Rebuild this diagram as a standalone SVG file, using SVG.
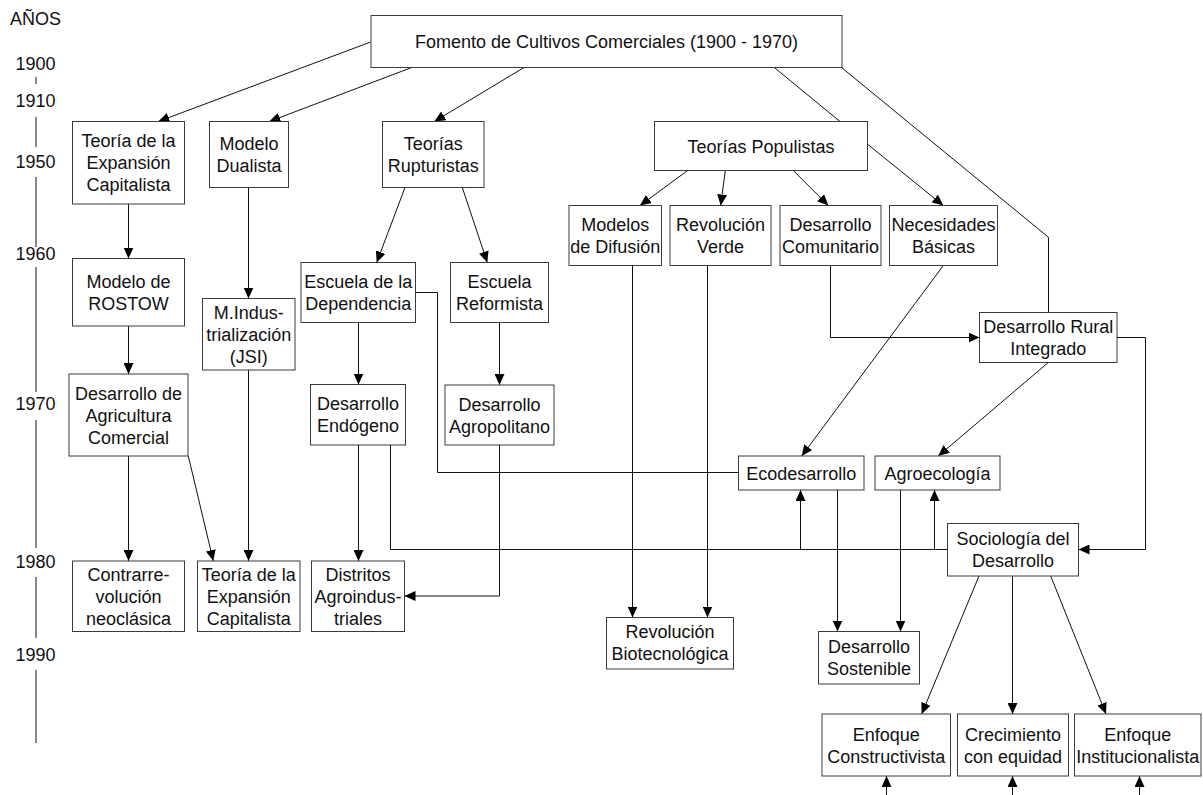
<svg xmlns="http://www.w3.org/2000/svg" width="1203" height="795" viewBox="0 0 1203 795">
<style>
.bg{fill:#fff}
.box{fill:#fff;stroke:#3a3a3a;stroke-width:1}
.t{font-family:"Liberation Sans",Arial,sans-serif;font-size:18px;fill:#111;text-anchor:middle}
.c{fill:none;stroke:#111;stroke-width:1}
.a{marker-end:url(#ah)}
.tl{stroke:#111;stroke-width:1}
</style>
<defs>
<marker id="ah" markerUnits="userSpaceOnUse" markerWidth="11" markerHeight="10" refX="11" refY="5" orient="auto">
<path d="M0,0 L11,5 L0,10 z" fill="#000"/>
</marker>
</defs>
<rect class="bg" x="0" y="0" width="1203" height="795"/>
<g id="timeline">
<text class="t" x="35.5" y="25">AÑOS</text>
<text class="t" x="35.5" y="70">1900</text>
<text class="t" x="35.5" y="107">1910</text>
<text class="t" x="35.5" y="168">1950</text>
<text class="t" x="35.5" y="260">1960</text>
<text class="t" x="35.5" y="410">1970</text>
<text class="t" x="35.5" y="568">1980</text>
<text class="t" x="35.5" y="661">1990</text>
<path class="tl" d="M36,77 V84 M36,117 V147 M36,177 V247 M36,267 V392 M36,420 V548 M36,577 V638 M36,670 V743"/>
</g>
<g id="connectors">
<path class="c a" d="M370.7,42 L158.3,121.5"/>
<path class="c a" d="M411.7,67.5 L269.3,121.5"/>
<path class="c a" d="M524,67.5 L434.3,121.5"/>
<path class="c" d="M774.3,67.5 L840,121.5"/>
<path class="c" d="M841.5,67.5 L1048.5,237.3 L1048.5,312.5"/>
<path class="c a" d="M128.5,204 V258.5"/>
<path class="c a" d="M128.5,326 V374"/>
<path class="c a" d="M128.5,456 V561"/>
<path class="c a" d="M188.3,456 L213.3,561"/>
<path class="c a" d="M248.5,187.5 V298.5"/>
<path class="c a" d="M248.5,370 V561"/>
<path class="c a" d="M405,187.5 L376.7,262.5"/>
<path class="c a" d="M462.3,187.5 L487.3,262.5"/>
<path class="c a" d="M358.5,322.5 V384.5"/>
<path class="c" d="M415.5,292.5 H437.5 V472.5 H738.5"/>
<path class="c a" d="M499.5,322.5 V385"/>
<path class="c a" d="M499.5,445 V596 H404.5"/>
<path class="c a" d="M358.5,445 V561"/>
<path class="c" d="M390.5,445 V549.5 H947.5"/>
<path class="c a" d="M800.5,549.5 V490"/>
<path class="c a" d="M934.5,549.5 V490"/>
<path class="c a" d="M687.7,170.5 L640,205.5"/>
<path class="c a" d="M725.3,170.5 L720.7,205.5"/>
<path class="c a" d="M793.3,170.5 L828.3,205.5"/>
<path class="c a" d="M867.3,144 L943.3,205.5"/>
<path class="c a" d="M632.5,265.5 V617.5"/>
<path class="c a" d="M707.5,265.5 V617.5"/>
<path class="c a" d="M830.5,265.5 V337.5 H979.5"/>
<path class="c a" d="M943.3,265.5 L801.7,456"/>
<path class="c a" d="M1048.3,362.5 L938.3,456"/>
<path class="c a" d="M1117,337.5 H1145.5 V549.5 H1078.5"/>
<path class="c a" d="M837.5,490 V631.5"/>
<path class="c a" d="M900.5,490 V631.5"/>
<path class="c a" d="M979,576 L921.7,714"/>
<path class="c a" d="M1012.5,576 V714"/>
<path class="c a" d="M1050.7,576 L1106,714"/>
<path class="c a" d="M886.5,795 V776"/>
<path class="c a" d="M1012.5,795 V776"/>
<path class="c a" d="M1139.5,795 V776"/>
</g>
<g id="n-fomento"><rect class="box" x="371" y="15.5" width="471" height="52"/><text class="t" x="606.5" y="48">Fomento de Cultivos Comerciales (1900 - 1970)</text></g>
<g id="n-teoria1"><rect class="box" x="72.5" y="121.5" width="112" height="82.5"/><text class="t"><tspan x="128.5" y="147.2">Teoría de la</tspan><tspan x="128.5" y="169.2">Expansión</tspan><tspan x="128.5" y="191.2">Capitalista</tspan></text></g>
<g id="n-dualista"><rect class="box" x="209.5" y="121.5" width="79" height="66"/><text class="t"><tspan x="249" y="150">Modelo</tspan><tspan x="249" y="172">Dualista</tspan></text></g>
<g id="n-rupturistas"><rect class="box" x="382.5" y="121.5" width="101.5" height="66"/><text class="t"><tspan x="433.25" y="150">Teorías</tspan><tspan x="433.25" y="172">Rupturistas</tspan></text></g>
<g id="n-populistas"><rect class="box" x="654.5" y="121.5" width="213" height="49"/><text class="t" x="761" y="152.5">Teorías Populistas</text></g>
<g id="n-difusion"><rect class="box" x="569" y="205.5" width="92.5" height="60"/><text class="t"><tspan x="615.25" y="231">Modelos</tspan><tspan x="615.25" y="253">de Difusión</tspan></text></g>
<g id="n-verde"><rect class="box" x="670" y="205.5" width="101" height="60"/><text class="t"><tspan x="720.5" y="231">Revolución</tspan><tspan x="720.5" y="253">Verde</tspan></text></g>
<g id="n-comunitario"><rect class="box" x="780" y="205.5" width="101" height="60"/><text class="t"><tspan x="830.5" y="231">Desarrollo</tspan><tspan x="830.5" y="253">Comunitario</tspan></text></g>
<g id="n-necesidades"><rect class="box" x="889.5" y="205.5" width="108" height="60"/><text class="t"><tspan x="943.5" y="231">Necesidades</tspan><tspan x="943.5" y="253">Básicas</tspan></text></g>
<g id="n-rostow"><rect class="box" x="72.5" y="258.5" width="112" height="67.5"/><text class="t"><tspan x="128.5" y="287.8">Modelo de</tspan><tspan x="128.5" y="309.8">ROSTOW</tspan></text></g>
<g id="n-dependencia"><rect class="box" x="301" y="262.5" width="114.5" height="60"/><text class="t"><tspan x="358.25" y="288">Escuela de la</tspan><tspan x="358.25" y="310">Dependencia</tspan></text></g>
<g id="n-reformista"><rect class="box" x="450.5" y="262.5" width="98" height="60"/><text class="t"><tspan x="499.5" y="288">Escuela</tspan><tspan x="499.5" y="310">Reformista</tspan></text></g>
<g id="n-industrializacion"><rect class="box" x="202.5" y="298.5" width="92.5" height="71.5"/><text class="t"><tspan x="248.75" y="318.7">M.Indus-</tspan><tspan x="248.75" y="340.7">trialización</tspan><tspan x="248.75" y="362.7">(JSI)</tspan></text></g>
<g id="n-agricultura"><rect class="box" x="69" y="374" width="119" height="82"/><text class="t"><tspan x="128.5" y="399.5">Desarrollo de</tspan><tspan x="128.5" y="421.5">Agricultura</tspan><tspan x="128.5" y="443.5">Comercial</tspan></text></g>
<g id="n-endogeno"><rect class="box" x="310.5" y="384.5" width="95" height="60.5"/><text class="t"><tspan x="358" y="410.2">Desarrollo</tspan><tspan x="358" y="432.2">Endógeno</tspan></text></g>
<g id="n-agropolitano"><rect class="box" x="445" y="385" width="109" height="60"/><text class="t"><tspan x="499.5" y="410.5">Desarrollo</tspan><tspan x="499.5" y="432.5">Agropolitano</tspan></text></g>
<g id="n-dri"><rect class="box" x="979.5" y="312.5" width="137.5" height="50"/><text class="t"><tspan x="1048.25" y="333">Desarrollo Rural</tspan><tspan x="1048.25" y="355">Integrado</tspan></text></g>
<g id="n-ecodesarrollo"><rect class="box" x="738.5" y="456" width="125.5" height="34"/><text class="t" x="801.25" y="479.5">Ecodesarrollo</text></g>
<g id="n-agroecologia"><rect class="box" x="875" y="456" width="125" height="34"/><text class="t" x="937.5" y="479.5">Agroecología</text></g>
<g id="n-sociologia"><rect class="box" x="947.5" y="523.5" width="131" height="52.5"/><text class="t"><tspan x="1013" y="545.2">Sociología del</tspan><tspan x="1013" y="567.2">Desarrollo</tspan></text></g>
<g id="n-contrarrevolucion"><rect class="box" x="72.5" y="561" width="112" height="70.5"/><text class="t"><tspan x="128.5" y="580.7">Contrarre-</tspan><tspan x="128.5" y="602.7">volución</tspan><tspan x="128.5" y="624.7">neoclásica</tspan></text></g>
<g id="n-teoria2"><rect class="box" x="197.5" y="561" width="102.5" height="70.5"/><text class="t"><tspan x="248.75" y="580.7">Teoría de la</tspan><tspan x="248.75" y="602.7">Expansión</tspan><tspan x="248.75" y="624.7">Capitalista</tspan></text></g>
<g id="n-distritos"><rect class="box" x="311.5" y="561" width="93" height="70.5"/><text class="t"><tspan x="358" y="580.7">Distritos</tspan><tspan x="358" y="602.7">Agroindus-</tspan><tspan x="358" y="624.7">triales</tspan></text></g>
<g id="n-biotecnologica"><rect class="box" x="606.5" y="617.5" width="127" height="51.5"/><text class="t"><tspan x="670" y="638.2">Revolución</tspan><tspan x="670" y="660.2">Biotecnológica</tspan></text></g>
<g id="n-sostenible"><rect class="box" x="818.5" y="631.5" width="101" height="52.5"/><text class="t"><tspan x="869" y="653.2">Desarrollo</tspan><tspan x="869" y="675.2">Sostenible</tspan></text></g>
<g id="n-constructivista"><rect class="box" x="822" y="714" width="128.5" height="62"/><text class="t"><tspan x="886.25" y="740.5">Enfoque</tspan><tspan x="886.25" y="762.5">Constructivista</tspan></text></g>
<g id="n-crecimiento"><rect class="box" x="957.5" y="714" width="111" height="62"/><text class="t"><tspan x="1013" y="740.5">Crecimiento</tspan><tspan x="1013" y="762.5">con equidad</tspan></text></g>
<g id="n-institucionalista"><rect class="box" x="1074.5" y="714" width="126.5" height="62"/><text class="t"><tspan x="1137.75" y="740.5">Enfoque</tspan><tspan x="1137.75" y="762.5">Institucionalista</tspan></text></g>
</svg>
